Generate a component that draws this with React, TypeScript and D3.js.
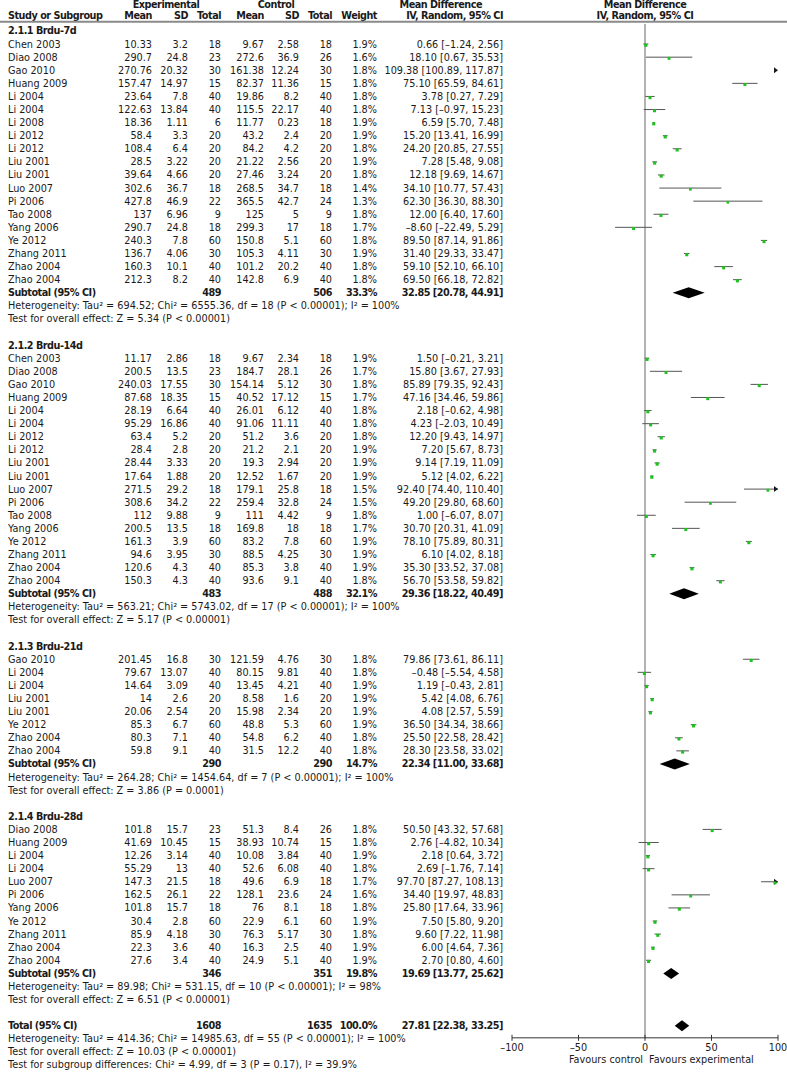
import React from "react";
import * as d3 from "d3";

// [study, exp mean, exp sd, exp n, ctl mean, ctl sd, ctl n, weight %, MD, lower, upper]
type Study = [string, number, number, number, number, number, number, number, number, number, number];

const brdu7d: Study[] = [
  ["Chen 2003", 10.33, 3.2, 18, 9.67, 2.58, 18, 1.9, 0.66, -1.24, 2.56],
  ["Diao 2008", 290.7, 24.8, 23, 272.6, 36.9, 26, 1.6, 18.1, 0.67, 35.53],
  ["Gao 2010", 270.76, 20.32, 30, 161.38, 12.24, 30, 1.8, 109.38, 100.89, 117.87],
  ["Huang 2009", 157.47, 14.97, 15, 82.37, 11.36, 15, 1.8, 75.1, 65.59, 84.61],
  ["Li 2004", 23.64, 7.8, 40, 19.86, 8.2, 40, 1.8, 3.78, 0.27, 7.29],
  ["Li 2004", 122.63, 13.84, 40, 115.5, 22.17, 40, 1.8, 7.13, -0.97, 15.23],
  ["Li 2008", 18.36, 1.11, 6, 11.77, 0.23, 18, 1.9, 6.59, 5.7, 7.48],
  ["Li 2012", 58.4, 3.3, 20, 43.2, 2.4, 20, 1.9, 15.2, 13.41, 16.99],
  ["Li 2012", 108.4, 6.4, 20, 84.2, 4.2, 20, 1.8, 24.2, 20.85, 27.55],
  ["Liu 2001", 28.5, 3.22, 20, 21.22, 2.56, 20, 1.9, 7.28, 5.48, 9.08],
  ["Liu 2001", 39.64, 4.66, 20, 27.46, 3.24, 20, 1.8, 12.18, 9.69, 14.67],
  ["Luo 2007", 302.6, 36.7, 18, 268.5, 34.7, 18, 1.4, 34.1, 10.77, 57.43],
  ["Pi 2006", 427.8, 46.9, 22, 365.5, 42.7, 24, 1.3, 62.3, 36.3, 88.3],
  ["Tao 2008", 137, 6.96, 9, 125, 5, 9, 1.8, 12.0, 6.4, 17.6],
  ["Yang 2006", 290.7, 24.8, 18, 299.3, 17, 18, 1.7, -8.6, -22.49, 5.29],
  ["Ye 2012", 240.3, 7.8, 60, 150.8, 5.1, 60, 1.8, 89.5, 87.14, 91.86],
  ["Zhang 2011", 136.7, 4.06, 30, 105.3, 4.11, 30, 1.9, 31.4, 29.33, 33.47],
  ["Zhao 2004", 160.3, 10.1, 40, 101.2, 20.2, 40, 1.8, 59.1, 52.1, 66.1],
  ["Zhao 2004", 212.3, 8.2, 40, 142.8, 6.9, 40, 1.8, 69.5, 66.18, 72.82],
];

const brdu14d: Study[] = [
  ["Chen 2003", 11.17, 2.86, 18, 9.67, 2.34, 18, 1.9, 1.5, -0.21, 3.21],
  ["Diao 2008", 200.5, 13.5, 23, 184.7, 28.1, 26, 1.7, 15.8, 3.67, 27.93],
  ["Gao 2010", 240.03, 17.55, 30, 154.14, 5.12, 30, 1.8, 85.89, 79.35, 92.43],
  ["Huang 2009", 87.68, 18.35, 15, 40.52, 17.12, 15, 1.7, 47.16, 34.46, 59.86],
  ["Li 2004", 28.19, 6.64, 40, 26.01, 6.12, 40, 1.8, 2.18, -0.62, 4.98],
  ["Li 2004", 95.29, 16.86, 40, 91.06, 11.11, 40, 1.8, 4.23, -2.03, 10.49],
  ["Li 2012", 63.4, 5.2, 20, 51.2, 3.6, 20, 1.8, 12.2, 9.43, 14.97],
  ["Li 2012", 28.4, 2.8, 20, 21.2, 2.1, 20, 1.9, 7.2, 5.67, 8.73],
  ["Liu 2001", 28.44, 3.33, 20, 19.3, 2.94, 20, 1.9, 9.14, 7.19, 11.09],
  ["Liu 2001", 17.64, 1.88, 20, 12.52, 1.67, 20, 1.9, 5.12, 4.02, 6.22],
  ["Luo 2007", 271.5, 29.2, 18, 179.1, 25.8, 18, 1.5, 92.4, 74.4, 110.4],
  ["Pi 2006", 308.6, 34.2, 22, 259.4, 32.8, 24, 1.5, 49.2, 29.8, 68.6],
  ["Tao 2008", 112, 9.88, 9, 111, 4.42, 9, 1.8, 1.0, -6.07, 8.07],
  ["Yang 2006", 200.5, 13.5, 18, 169.8, 18, 18, 1.7, 30.7, 20.31, 41.09],
  ["Ye 2012", 161.3, 3.9, 60, 83.2, 7.8, 60, 1.9, 78.1, 75.89, 80.31],
  ["Zhang 2011", 94.6, 3.95, 30, 88.5, 4.25, 30, 1.9, 6.1, 4.02, 8.18],
  ["Zhao 2004", 120.6, 4.3, 40, 85.3, 3.8, 40, 1.9, 35.3, 33.52, 37.08],
  ["Zhao 2004", 150.3, 4.3, 40, 93.6, 9.1, 40, 1.8, 56.7, 53.58, 59.82],
];

const brdu21d: Study[] = [
  ["Gao 2010", 201.45, 16.8, 30, 121.59, 4.76, 30, 1.8, 79.86, 73.61, 86.11],
  ["Li 2004", 79.67, 13.07, 40, 80.15, 9.81, 40, 1.8, -0.48, -5.54, 4.58],
  ["Li 2004", 14.64, 3.09, 40, 13.45, 4.21, 40, 1.9, 1.19, -0.43, 2.81],
  ["Liu 2001", 14, 2.6, 20, 8.58, 1.6, 20, 1.9, 5.42, 4.08, 6.76],
  ["Liu 2001", 20.06, 2.54, 20, 15.98, 2.34, 20, 1.9, 4.08, 2.57, 5.59],
  ["Ye 2012", 85.3, 6.7, 60, 48.8, 5.3, 60, 1.9, 36.5, 34.34, 38.66],
  ["Zhao 2004", 80.3, 7.1, 40, 54.8, 6.2, 40, 1.8, 25.5, 22.58, 28.42],
  ["Zhao 2004", 59.8, 9.1, 40, 31.5, 12.2, 40, 1.8, 28.3, 23.58, 33.02],
];

const brdu28d: Study[] = [
  ["Diao 2008", 101.8, 15.7, 23, 51.3, 8.4, 26, 1.8, 50.5, 43.32, 57.68],
  ["Huang 2009", 41.69, 10.45, 15, 38.93, 10.74, 15, 1.8, 2.76, -4.82, 10.34],
  ["Li 2004", 12.26, 3.14, 40, 10.08, 3.84, 40, 1.9, 2.18, 0.64, 3.72],
  ["Li 2004", 55.29, 13, 40, 52.6, 6.08, 40, 1.8, 2.69, -1.76, 7.14],
  ["Luo 2007", 147.3, 21.5, 18, 49.6, 6.9, 18, 1.7, 97.7, 87.27, 108.13],
  ["Pi 2006", 162.5, 26.1, 22, 128.1, 23.6, 24, 1.6, 34.4, 19.97, 48.83],
  ["Yang 2006", 101.8, 15.7, 18, 76, 8.1, 18, 1.8, 25.8, 17.64, 33.96],
  ["Ye 2012", 30.4, 2.8, 60, 22.9, 6.1, 60, 1.9, 7.5, 5.8, 9.2],
  ["Zhang 2011", 85.9, 4.18, 30, 76.3, 5.17, 30, 1.8, 9.6, 7.22, 11.98],
  ["Zhao 2004", 22.3, 3.6, 40, 16.3, 2.5, 40, 1.9, 6.0, 4.64, 7.36],
  ["Zhao 2004", 27.6, 3.4, 40, 24.9, 5.1, 40, 1.9, 2.7, 0.8, 4.6],
];

const subgroupStudies = [brdu7d, brdu14d, brdu21d, brdu28d];
const subgroupTitles = ["2.1.1 Brdu-7d", "2.1.2 Brdu-14d", "2.1.3 Brdu-21d", "2.1.4 Brdu-28d"];
const subtotalN = [[489, 506], [483, 488], [290, 290], [346, 351]];
const subtotalWeight = [33.3, 32.1, 14.7, 19.8];
const subtotalEffect = [[32.85, 20.78, 44.91], [29.36, 18.22, 40.49], [22.34, 11.0, 33.68], [19.69, 13.77, 25.62]];
const subtotalHetero = [
  "Heterogeneity: Tau² = 694.52; Chi² = 6555.36, df = 18 (P < 0.00001); I² = 100%",
  "Heterogeneity: Tau² = 563.21; Chi² = 5743.02, df = 17 (P < 0.00001); I² = 100%",
  "Heterogeneity: Tau² = 264.28; Chi² = 1454.64, df = 7 (P < 0.00001); I² = 100%",
  "Heterogeneity: Tau² = 89.98; Chi² = 531.15, df = 10 (P < 0.00001); I² = 98%",
];
const subtotalTest = [
  "Test for overall effect: Z = 5.34 (P < 0.00001)",
  "Test for overall effect: Z = 5.17 (P < 0.00001)",
  "Test for overall effect: Z = 3.86 (P = 0.0001)",
  "Test for overall effect: Z = 6.51 (P < 0.00001)",
];
const totalN = [1608, 1635];
const totalWeight = 100.0;
const totalEffect = [27.81, 22.38, 33.25];
const totalNotes = [
  "Heterogeneity: Tau² = 414.36; Chi² = 14985.63, df = 55 (P < 0.00001); I² = 100%",
  "Test for overall effect: Z = 10.03 (P < 0.00001)",
  "Test for subgroup differences: Chi² = 4.99, df = 3 (P = 0.17), I² = 39.9%",
];
const axisTicks = [-100, -50, 0, 50, 100];

const W = 787;
const H = 1073;
const FONT = "'DejaVu Sans', Verdana, sans-serif";
const FS = 9.7;
const INK = "#1a1a1a";

// right edges of the table columns
const colX = { eMean: 152, eSD: 188, eN: 221, cMean: 264, cSD: 299, cN: 332, weight: 377, md: 503 };

const dash = (s: string) => s.replace(/-/g, "–");
const num = (v: number) => dash(String(v));
const ci = (m: number, lo: number, hi: number) =>
  dash(`${m.toFixed(2)} [${lo.toFixed(2)}, ${hi.toFixed(2)}]`);

type Row =
  | { kind: "head"; text: string }
  | { kind: "study"; s: Study }
  | { kind: "sub"; label: string; n: number[]; w: number; eff: number[] }
  | { kind: "note"; text: string }
  | { kind: "blank" };

const rows: Row[] = [];
subgroupStudies.forEach((list, g) => {
  rows.push({ kind: "head", text: subgroupTitles[g] });
  list.forEach((s) => rows.push({ kind: "study", s }));
  rows.push({ kind: "sub", label: "Subtotal (95% CI)", n: subtotalN[g], w: subtotalWeight[g], eff: subtotalEffect[g] });
  rows.push({ kind: "note", text: subtotalHetero[g] });
  rows.push({ kind: "note", text: subtotalTest[g] });
  rows.push({ kind: "blank" });
});
rows.push({ kind: "sub", label: "Total (95% CI)", n: totalN, w: totalWeight, eff: totalEffect });
totalNotes.forEach((t) => rows.push({ kind: "note", text: t }));

export default function App() {
  const y = d3.scaleLinear().domain([0, rows.length - 1]).range([31, 1065]);
  const x = d3.scaleLinear().domain([-100, 100]).range([512, 778]);
  const side = d3.scaleSqrt().domain([0, 2]).range([0, 3.2]);
  const [xMin, xMax] = x.domain();
  const axisY = y(rows.findIndex((r) => r.kind === "sub" && r.label.startsWith("Total")) + 1) - 1;

  const txt = (
    key: string,
    tx: number,
    ty: number,
    s: string,
    anchor: "start" | "middle" | "end" = "start",
    bold = false
  ) => (
    <text
      key={key}
      x={tx}
      y={ty}
      dy="0.36em"
      textAnchor={anchor}
      fontWeight={bold ? "bold" : "normal"}
      letterSpacing={bold ? -0.5 : 0}
    >
      {s}
    </text>
  );

  const arrowRight = (key: string, ay: number) => (
    <path key={key} d={`M${x(xMax) - 4},${ay - 3}L${x(xMax)},${ay}L${x(xMax) - 4},${ay + 3}Z`} fill={INK} />
  );
  const arrowLeft = (key: string, ay: number) => (
    <path key={key} d={`M${x(xMin) + 4},${ay - 3}L${x(xMin)},${ay}L${x(xMin) + 4},${ay + 3}Z`} fill={INK} />
  );

  const marks: React.ReactNode[] = [];
  rows.forEach((r, i) => {
    const cy = y(i);
    if (r.kind === "head") {
      marks.push(txt(`h${i}`, 8, cy, r.text, "start", true));
    } else if (r.kind === "note") {
      marks.push(txt(`n${i}`, 8, cy, r.text));
    } else if (r.kind === "study") {
      const [name, em, esd, en, cm, csd, cn, w, md, lo, hi] = r.s;
      marks.push(
        <g key={`s${i}`}>
          {txt("a", 8, cy, name)}
          {txt("b", colX.eMean, cy, num(em), "end")}
          {txt("c", colX.eSD, cy, num(esd), "end")}
          {txt("d", colX.eN, cy, num(en), "end")}
          {txt("e", colX.cMean, cy, num(cm), "end")}
          {txt("f", colX.cSD, cy, num(csd), "end")}
          {txt("g", colX.cN, cy, num(cn), "end")}
          {txt("h", colX.weight, cy, `${w.toFixed(1)}%`, "end")}
          {txt("i", colX.md, cy, ci(md, lo, hi), "end")}
        </g>
      );
      const l = Math.max(lo, xMin);
      const h = Math.min(hi, xMax);
      if (l < h) {
        marks.push(
          <line key={`l${i}`} x1={x(l)} x2={x(h)} y1={cy} y2={cy} stroke="#555" strokeWidth={1} />
        );
      }
      if (hi > xMax) marks.push(arrowRight(`ar${i}`, cy));
      if (lo < xMin) marks.push(arrowLeft(`al${i}`, cy));
      if (md >= xMin && md <= xMax) {
        const sz = side(w);
        marks.push(
          <rect key={`q${i}`} x={x(md) - sz / 2} y={cy + 1.2 - sz / 2} width={sz} height={sz} fill="#1ec21e" />
        );
      }
    } else if (r.kind === "sub") {
      const [m, lo, hi] = r.eff;
      marks.push(
        <g key={`t${i}`}>
          {txt("a", 8, cy, r.label, "start", true)}
          {txt("b", colX.eN, cy, String(r.n[0]), "end", true)}
          {txt("c", colX.cN, cy, String(r.n[1]), "end", true)}
          {txt("d", colX.weight, cy, `${r.w.toFixed(1)}%`, "end", true)}
          {txt("e", colX.md, cy, ci(m, lo, hi), "end", true)}
        </g>
      );
      marks.push(
        <path
          key={`dm${i}`}
          d={`M${x(lo)},${cy}L${x(m)},${cy - 5.5}L${x(hi)},${cy}L${x(m)},${cy + 5.5}Z`}
          fill="#000"
        />
      );
    }
  });

  return (
    <svg
      width={W}
      height={H}
      style={{ position: "absolute", left: 0, top: 0, background: "#fff" }}
      fontFamily={FONT}
      fontSize={FS}
      fill={INK}
    >
      {/* header */}
      {txt("hx1", 166, 4.5, "Experimental", "middle", true)}
      {txt("hx2", 276, 4.5, "Control", "middle", true)}
      {txt("hx3", 482, 4.5, "Mean Difference", "end", true)}
      {txt("hx4", x(0), 4.5, "Mean Difference", "middle", true)}
      {txt("hs1", 8, 16, "Study or Subgroup", "start", true)}
      {txt("hs2", colX.eMean, 16, "Mean", "end", true)}
      {txt("hs3", colX.eSD, 16, "SD", "end", true)}
      {txt("hs4", colX.eN, 16, "Total", "end", true)}
      {txt("hs5", colX.cMean, 16, "Mean", "end", true)}
      {txt("hs6", colX.cSD, 16, "SD", "end", true)}
      {txt("hs7", colX.cN, 16, "Total", "end", true)}
      {txt("hs8", colX.weight, 16, "Weight", "end", true)}
      {txt("hs9", colX.md, 16, "IV, Random, 95% CI", "end", true)}
      {txt("hs10", x(0), 16, "IV, Random, 95% CI", "middle", true)}
      <line x1={0} x2={W} y1={21.7} y2={21.7} stroke="#8a8a8a" strokeWidth={2} />

      {/* zero line */}
      <line x1={x(0)} x2={x(0)} y1={24} y2={axisY} stroke="#666" strokeWidth={1} />

      {marks}

      {/* axis */}
      <line x1={x(xMin)} x2={x(xMax)} y1={axisY} y2={axisY} stroke="#333" strokeWidth={1} />
      {axisTicks.map((t) => (
        <g key={`tk${t}`}>
          <line x1={x(t)} x2={x(t)} y1={axisY - 3} y2={axisY + 3} stroke="#333" strokeWidth={1} />
          {txt(`tl${t}`, x(t), axisY + 10, dash(String(t)), "middle")}
        </g>
      ))}
      {txt("fc", x(0) - 2, axisY + 22, "Favours control", "end")}
      {txt("fe", x(0) + 4, axisY + 22, "Favours experimental", "start")}
    </svg>
  );
}
